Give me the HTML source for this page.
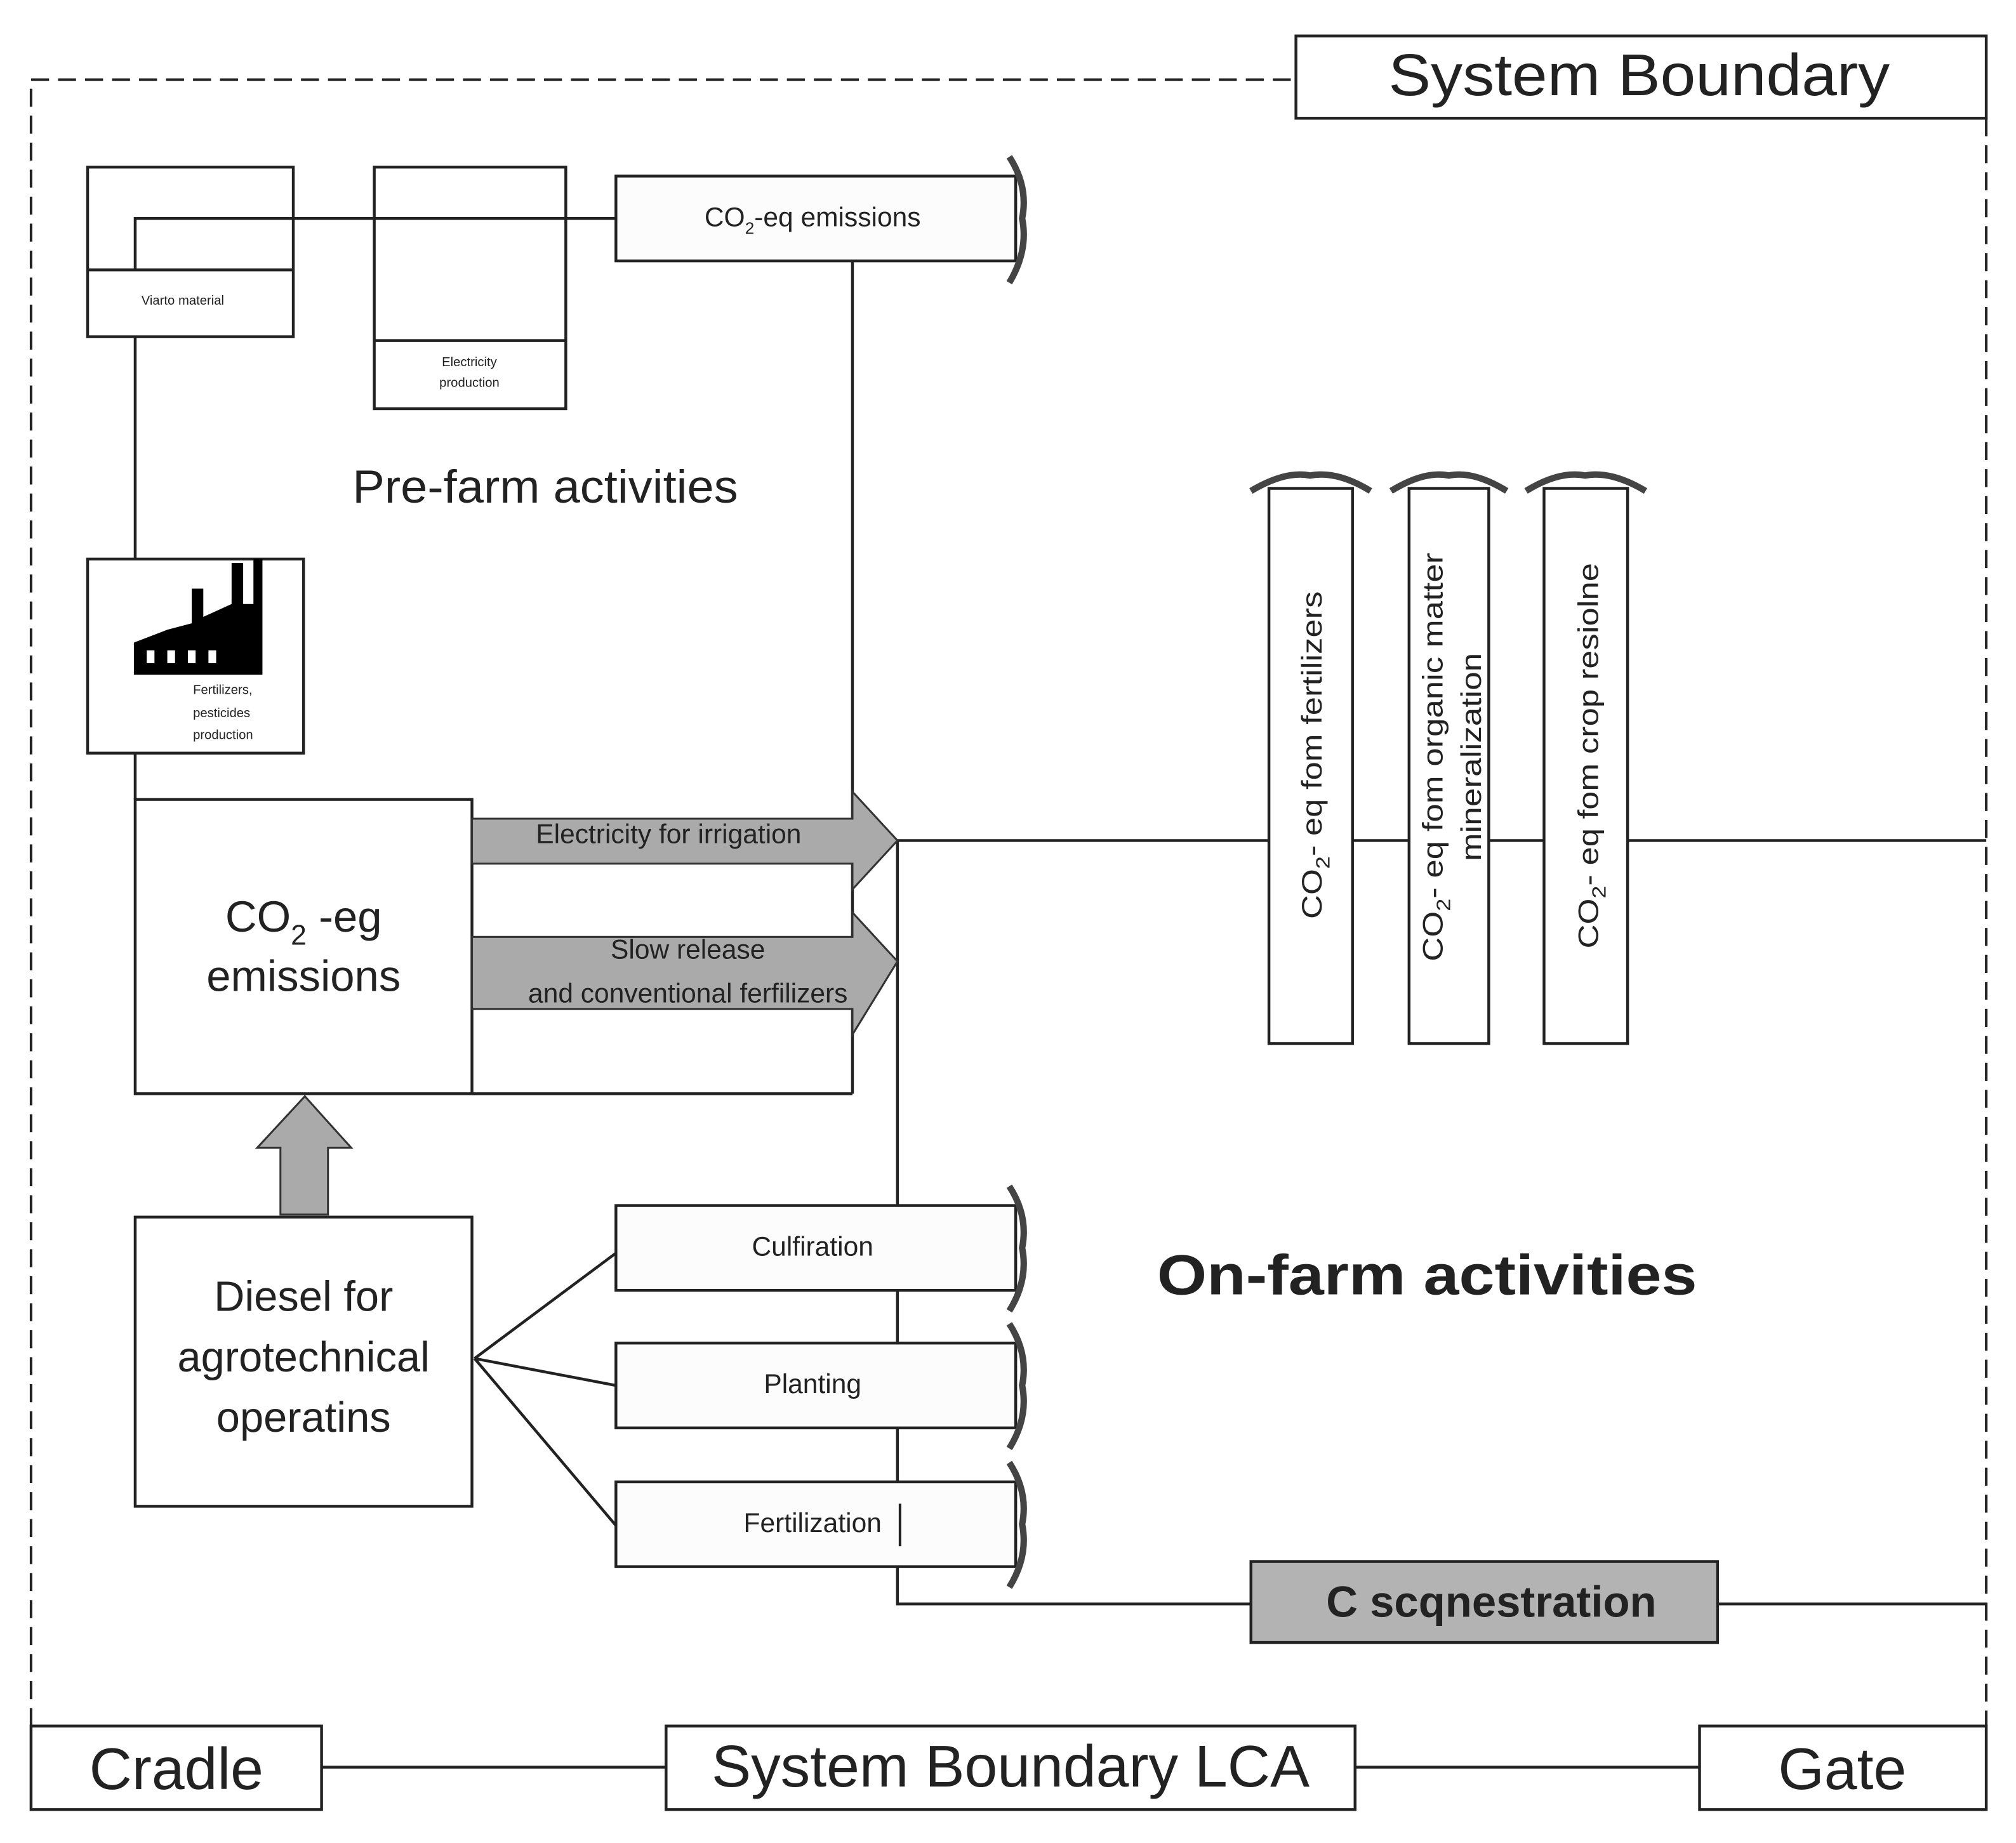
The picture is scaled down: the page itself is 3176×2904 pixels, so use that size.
<!DOCTYPE html>
<html><head><meta charset="utf-8"><style>html,body{margin:0;padding:0;background:#fff}svg{display:block}text{font-family:"Liberation Sans",sans-serif;fill:#222}</style></head>
<body>
<svg width="3176" height="2904" viewBox="0 0 1568 1434" xmlns="http://www.w3.org/2000/svg">
<rect width="1568" height="1434" fill="#fff"/>
<g stroke="#222" stroke-width="2" fill="none">
<path d="M24 1343 V62 H1008" stroke-dasharray="14 7"/>
<path d="M1545 92 V1343" stroke-dasharray="14 7"/>
</g>
<g stroke="#222" stroke-width="2.2" fill="#fff">
<rect x="1008" y="28" width="537" height="64"/>
<rect x="68" y="130" width="160" height="132"/>
<line x1="68" y1="210" x2="228" y2="210"/>
<rect x="291" y="130" width="149" height="188"/>
<line x1="291" y1="265" x2="440" y2="265"/>
<polyline points="105,210 105,170 479,170" fill="none"/>
<line x1="105" y1="262" x2="105" y2="435"/>
<line x1="105" y1="586" x2="105" y2="622"/>
<rect x="479" y="137" width="311" height="66" fill="#fcfcfc"/>
<line x1="663" y1="203" x2="663" y2="851"/>
<rect x="68" y="435" width="168" height="151"/>
<rect x="105" y="622" width="262" height="229"/>
<line x1="367" y1="851" x2="663" y2="851"/>
<polyline points="698,654 1545,654" fill="none"/>
<polyline points="698,654 698,1248 973,1248" fill="none"/>
<line x1="1336" y1="1248" x2="1545" y2="1248"/>
<rect x="105" y="947" width="262" height="225"/>
<line x1="369" y1="1057" x2="479" y2="975"/>
<line x1="369" y1="1057" x2="479" y2="1078"/>
<line x1="369" y1="1057" x2="479" y2="1187"/>
<rect x="479" y="938" width="311" height="66" fill="#fcfcfc"/>
<rect x="479" y="1045" width="311" height="66" fill="#fcfcfc"/>
<rect x="479" y="1153" width="311" height="66" fill="#fcfcfc"/>
<rect x="987" y="380" width="65" height="432"/>
<rect x="1096" y="380" width="62" height="432"/>
<rect x="1201" y="380" width="65" height="432"/>
<rect x="973" y="1215" width="363" height="63" fill="#b3b3b3"/>
<line x1="250" y1="1375" x2="518" y2="1375"/>
<line x1="1054" y1="1375" x2="1322" y2="1375"/>
<rect x="24" y="1343" width="226" height="65"/>
<rect x="518" y="1343" width="536" height="65"/>
<rect x="1322" y="1343" width="223" height="65"/>
</g>
<g fill="#aaa" stroke="#333" stroke-width="1.5">
<polygon points="367,637 663,637 663,616 698,654 663,692 663,672 367,672"/>
<polygon points="367,729 663,729 663,710 698,748 663,805 663,785 367,785"/>
<polygon points="218,945 218,893 200,893 237,853 273,893 255,893 255,945"/>
</g>
<g stroke="#444" stroke-width="5" fill="none">
<path d="M785 122 Q800 145 795 170 Q800 195 785 220"/>
<path d="M785 923 Q800 946 795 971 Q800 996 785 1020"/>
<path d="M785 1030 Q800 1053 795 1078 Q800 1103 785 1127"/>
<path d="M785 1138 Q800 1161 795 1186 Q800 1211 785 1235"/>
<path d="M973 382 Q1000 366 1019 370 Q1040 366 1066 382"/>
<path d="M1082 382 Q1108 366 1127 370 Q1146 366 1172 382"/>
<path d="M1187 382 Q1213 366 1233 370 Q1253 366 1280 382"/>
</g>
<g fill="#000">
<polygon points="104,525 204,525 204,435 197,435 197,470 189,470 189,438 180,438 180,470 158,480 158,458 149,458 149,485 130,490 104,500"/>
</g>
<g fill="#fff"><rect x="114" y="506" width="6" height="10"/><rect x="130" y="506" width="6" height="10"/><rect x="146" y="506" width="6" height="10"/><rect x="162" y="506" width="6" height="10"/></g>
<text x="1080" y="74" font-size="46" textLength="390" lengthAdjust="spacingAndGlyphs">System Boundary</text>
<text x="142" y="237" font-size="10" text-anchor="middle" fill="#555">Viarto material</text>
<text x="365" y="285" font-size="10" text-anchor="middle" fill="#555">Electricity</text>
<text x="365" y="301" font-size="10" text-anchor="middle" fill="#555">production</text>
<text x="632" y="176" font-size="21" text-anchor="middle">CO<tspan font-size="13" dy="6">2</tspan><tspan dy="-6">-eq emissions</tspan></text>
<text x="274" y="391" font-size="36" fill="#333" textLength="300" lengthAdjust="spacingAndGlyphs">Pre-farm activities</text>
<text x="150" y="540" font-size="10" fill="#555">Fertilizers,</text>
<text x="150" y="558" font-size="10" fill="#555">pesticides</text>
<text x="150" y="575" font-size="10" fill="#555">production</text>
<text x="236" y="725" font-size="34" text-anchor="middle">CO<tspan font-size="22" dy="10">2</tspan><tspan dy="-10"> -eg</tspan></text>
<text x="236" y="771" font-size="34" text-anchor="middle">emissions</text>
<text x="520" y="656" font-size="21" text-anchor="middle">Electricity for irrigation</text>
<text x="535" y="746" font-size="21" text-anchor="middle">Slow release</text>
<text x="535" y="780" font-size="21" text-anchor="middle">and conventional ferfilizers</text>
<text x="236" y="1020" font-size="33" text-anchor="middle">Diesel for</text>
<text x="236" y="1067" font-size="33" text-anchor="middle">agrotechnical</text>
<text x="236" y="1114" font-size="33" text-anchor="middle">operatins</text>
<text x="632" y="977" font-size="21" text-anchor="middle">Culfiration</text>
<text x="632" y="1084" font-size="21" text-anchor="middle">Planting</text>
<text x="632" y="1192" font-size="21" text-anchor="middle">Fertilization</text>
<line x1="700" y1="1170" x2="700" y2="1203" stroke="#222" stroke-width="2"/>
<text x="900" y="1007" font-size="44" font-weight="bold" fill="#000" textLength="420" lengthAdjust="spacingAndGlyphs">On-farm activities</text>
<text x="1160" y="1258" font-size="34" font-weight="bold" text-anchor="middle" fill="#000">C scqnestration</text>
<text transform="translate(1028,715) rotate(-90)" font-size="22" textLength="255" lengthAdjust="spacingAndGlyphs">CO<tspan font-size="15" dy="6">2</tspan><tspan dy="-6">- eq  fom fertilizers</tspan></text>
<text transform="translate(1122,748) rotate(-90)" font-size="22" textLength="318" lengthAdjust="spacingAndGlyphs">CO<tspan font-size="15" dy="6">2</tspan><tspan dy="-6">- eq  fom organic matter</tspan></text>
<text transform="translate(1152,670) rotate(-90)" font-size="22" textLength="162" lengthAdjust="spacingAndGlyphs">mineralization</text>
<text transform="translate(1243,738) rotate(-90)" font-size="22" textLength="300" lengthAdjust="spacingAndGlyphs">CO<tspan font-size="15" dy="6">2</tspan><tspan dy="-6">- eq  fom crop resiolne</tspan></text>
<text x="137" y="1392" font-size="46" text-anchor="middle" fill="#111">Cradle</text>
<text x="786" y="1390" font-size="46" text-anchor="middle" fill="#111">System Boundary LCA</text>
<text x="1433" y="1392" font-size="46" text-anchor="middle" fill="#111">Gate</text>
</svg>
</body></html>
